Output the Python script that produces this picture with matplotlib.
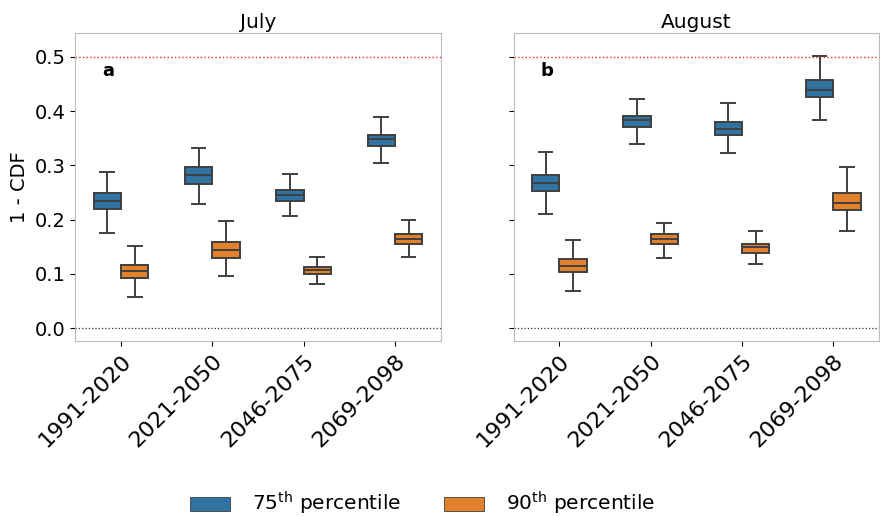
import matplotlib.pyplot as plt
from matplotlib.patches import Patch

periods = ["1991-2020", "2021-2050", "2046-2075", "2069-2098"]
months = ["July", "August"]
panel_tags = ["a", "b"]

# box stats per period: (whisker low, q1, median, q3, whisker high)
july_p75 = [(0.175, 0.219, 0.234, 0.249, 0.288),
            (0.229, 0.265, 0.282, 0.298, 0.333),
            (0.207, 0.235, 0.245, 0.255, 0.284),
            (0.304, 0.336, 0.348, 0.357, 0.389)]
july_p90 = [(0.057, 0.092, 0.105, 0.117, 0.151),
            (0.097, 0.130, 0.144, 0.159, 0.197),
            (0.082, 0.100, 0.107, 0.113, 0.131),
            (0.132, 0.156, 0.165, 0.174, 0.199)]
aug_p75 = [(0.210, 0.253, 0.267, 0.283, 0.325),
           (0.340, 0.371, 0.383, 0.392, 0.423),
           (0.323, 0.356, 0.368, 0.380, 0.416),
           (0.383, 0.426, 0.440, 0.457, 0.502)]
aug_p90 = [(0.068, 0.103, 0.114, 0.127, 0.162),
           (0.129, 0.155, 0.164, 0.173, 0.194),
           (0.118, 0.139, 0.149, 0.156, 0.180),
           (0.180, 0.218, 0.231, 0.250, 0.298)]

series_labels = ["75$^{\\mathrm{th}}$ percentile", "90$^{\\mathrm{th}}$ percentile"]
colors = ["#3274a1", "#e1812c"]
line_col = "#3f3f3f"


def make_stats(rows):
    out = []
    for lo, q1, med, q3, hi in rows:
        out.append(dict(whislo=lo, q1=q1, med=med, q3=q3, whishi=hi, fliers=[]))
    return out


def main():
    plt.rcParams["font.family"] = "DejaVu Sans"
    fig, axes = plt.subplots(1, 2, figsize=(8.86, 5.17), dpi=100, sharey=True)
    fig.subplots_adjust(left=0.085, right=0.992, top=0.936, bottom=0.34, wspace=0.2)

    data = [(july_p75, july_p90), (aug_p75, aug_p90)]
    for ax, month, tag, (s75, s90) in zip(axes, months, panel_tags, data):
        ax.axhline(0.5, color="#ff2020", ls=":", lw=1.0, zorder=0)
        ax.axhline(0.0, color="#303030", ls=":", lw=0.9, zorder=0)
        for k, (rows, offset) in enumerate([(s75, -0.15), (s90, 0.15)]):
            pos = [i + offset for i in range(len(periods))]
            ax.bxp(make_stats(rows), positions=pos, widths=0.3, patch_artist=True,
                   showfliers=False,
                   boxprops=dict(facecolor=colors[k], edgecolor=line_col, lw=1.4),
                   medianprops=dict(color=line_col, lw=1.4),
                   whiskerprops=dict(color=line_col, lw=1.4),
                   capprops=dict(color=line_col, lw=1.4),
                   capwidths=0.15)
        ax.set_xlim(-0.5, 3.5)
        ax.set_ylim(-0.024, 0.544)
        ax.set_xticks(range(len(periods)))
        ax.set_xticklabels(periods, rotation=45, ha="right", rotation_mode="anchor",
                           fontsize=16)
        ax.tick_params(axis="y", labelsize=14)
        ax.set_yticks([0.0, 0.1, 0.2, 0.3, 0.4, 0.5])
        ax.set_title(month, fontsize=14.5, pad=4)
        ax.text(0.074, 0.86, tag, transform=ax.transAxes, fontsize=13,
                fontweight="bold")
        for sp in ax.spines.values():
            sp.set_color("#bbbbbb")

    axes[0].set_ylabel("1 - CDF", fontsize=14)

    handles = [Patch(facecolor=c, edgecolor=line_col, lw=0.6) for c in colors]
    fig.legend(handles, series_labels, loc="center", ncol=2, frameon=False,
               fontsize=14.5, bbox_to_anchor=(0.477, 0.026), handlelength=2,
               handleheight=0.7, handletextpad=1.1, columnspacing=2.1)

    fig.savefig("out.png", dpi=100)
    plt.close(fig)


if __name__ == "__main__":
    main()
